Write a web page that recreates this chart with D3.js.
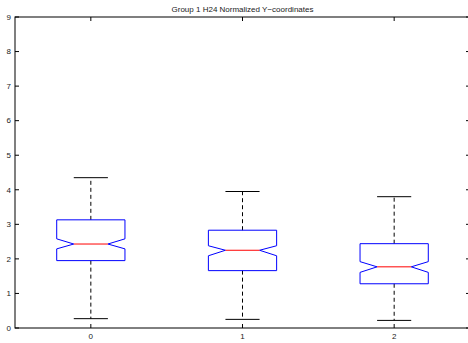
<!DOCTYPE html>
<html><head><meta charset="utf-8">
<script src="https://cdn.jsdelivr.net/npm/d3@7/dist/d3.min.js"></script>
<style>body{margin:0;background:#fff}svg{display:block}</style>
</head><body>
<svg id="c" width="468" height="343"></svg>
<script>
const categories = ["0", "1", "2"];
const whiskerLow  = [0.27, 0.25, 0.22];
const q1          = [1.95, 1.66, 1.28];
const notchLow    = [2.29, 2.09, 1.61];
const median      = [2.43, 2.25, 1.77];
const notchHigh   = [2.58, 2.38, 1.92];
const q3          = [3.13, 2.83, 2.44];
const whiskerHigh = [4.35, 3.95, 3.80];
const yTicks = [0,1,2,3,4,5,6,7,8,9];
const title = "Group 1 H24 Normalized Y\u2212coordinates";

const svg = d3.select("#c");
const L = 15, R = 470, T = 17, B = 328;
const x = d3.scaleLinear().domain([-0.5, 2.5]).range([L, R]);
const y = d3.scaleLinear().domain([0, 9]).range([B, T]);
const font = "Liberation Sans, Arial, Helvetica, sans-serif";

const data = categories.map((c, i) => ({
  c, pos: i, wl: whiskerLow[i], q1: q1[i], nl: notchLow[i], med: median[i],
  nh: notchHigh[i], q3: q3[i], wh: whiskerHigh[i]
}));

const hw = 0.225, nw = 0.1125, cw = 0.1125;
const g = svg.append("g");

// whiskers
data.forEach(d => {
  g.append("line").attr("x1", x(d.pos)).attr("x2", x(d.pos))
    .attr("y1", y(d.q3)).attr("y2", y(d.wh))
    .attr("stroke", "#000").attr("stroke-width", 1).attr("stroke-dasharray", "4,3");
  g.append("line").attr("x1", x(d.pos)).attr("x2", x(d.pos))
    .attr("y1", y(d.q1)).attr("y2", y(d.wl))
    .attr("stroke", "#000").attr("stroke-width", 1).attr("stroke-dasharray", "4,3");
  [d.wh, d.wl].forEach(v => {
    g.append("line").attr("x1", x(d.pos - cw)).attr("x2", x(d.pos + cw))
      .attr("y1", y(v)).attr("y2", y(v))
      .attr("stroke", "#000").attr("stroke-width", 1);
  });
});

// boxes
const line = d3.line().x(p => x(p[0])).y(p => y(p[1]));
data.forEach(d => {
  const l = d.pos - hw, r = d.pos + hw, il = d.pos - nw, ir = d.pos + nw;
  const pts = [[l, d.q3], [r, d.q3], [r, d.nh], [ir, d.med], [r, d.nl], [r, d.q1],
               [l, d.q1], [l, d.nl], [il, d.med], [l, d.nh], [l, d.q3]];
  g.append("path").attr("d", line(pts)).attr("fill", "none")
    .attr("stroke", "#0000ff").attr("stroke-width", 1);
  g.append("line").attr("x1", x(il)).attr("x2", x(ir))
    .attr("y1", y(d.med)).attr("y2", y(d.med))
    .attr("stroke", "#ff0000").attr("stroke-width", 1);
});

// axes box
svg.append("rect").attr("x", L).attr("y", T).attr("width", R - L).attr("height", B - T)
  .attr("fill", "none").attr("stroke", "#000").attr("stroke-width", 1);

// ticks
const tl = 4;
yTicks.forEach(t => {
  svg.append("line").attr("x1", L).attr("x2", L + tl).attr("y1", y(t)).attr("y2", y(t)).attr("stroke", "#000");
  svg.append("line").attr("x1", R).attr("x2", R - tl).attr("y1", y(t)).attr("y2", y(t)).attr("stroke", "#000");
  svg.append("text").attr("x", L - 4).attr("y", y(t)).attr("dy", "0.35em")
    .attr("text-anchor", "end").attr("font-family", font).attr("font-size", 8)
    .attr("fill", "#222").text(t);
});
data.forEach(d => {
  svg.append("line").attr("x1", x(d.pos)).attr("x2", x(d.pos)).attr("y1", B).attr("y2", B - tl).attr("stroke", "#000");
  svg.append("line").attr("x1", x(d.pos)).attr("x2", x(d.pos)).attr("y1", T).attr("y2", T + tl).attr("stroke", "#000");
  svg.append("text").attr("x", x(d.pos)).attr("y", B + 11)
    .attr("text-anchor", "middle").attr("font-family", font).attr("font-size", 8)
    .attr("fill", "#222").text(d.c);
});

svg.append("text").attr("x", (L + R) / 2).attr("y", 12)
  .attr("text-anchor", "middle").attr("font-family", font).attr("font-size", 8)
  .attr("fill", "#222").text(title);
</script>
</body></html>
